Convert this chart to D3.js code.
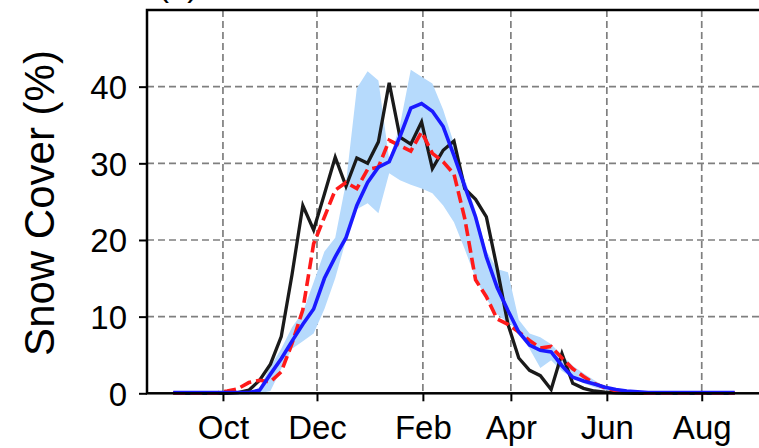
<!DOCTYPE html>
<html><head><meta charset="utf-8">
<script src="https://cdn.jsdelivr.net/npm/d3@7"></script>
<style>body{margin:0;background:#fff}svg{display:block}text{font-family:"Liberation Sans",Arial,Helvetica,sans-serif}</style>
</head><body>
<svg id="c" width="759" height="448"></svg>
<script>
// weekly index (0..52)
const weeks = [0,1,2,3,4,5,6,7,8,9,10,11,12,13,14,15,16,17,18,19,20,21,22,23,24,25,26,27,28,29,30,31,32,33,34,35,36,37,38,39,40,41,42,43,44,45,46,47,48,49,50,51,52];
const observed = [0,0,0,0,0,0,0.1,0.4,1.7,3.8,7.4,15.5,24.5,21.3,26.0,30.8,27.0,30.7,30.0,32.8,40.5,33.4,32.5,35.4,29.3,31.7,32.9,26.7,25.3,23.0,16.3,9.0,4.6,3.0,2.3,0.5,5.2,1.3,0.65,0.3,0.15,0.05,0.02,0,0,0,0,0,0,0,0,0,0];
const modelRed = [0.05,0.05,0.05,0.05,0.05,0.3,0.6,1.4,1.7,1.5,2.8,6.5,10.9,19.5,23.0,26.5,27.5,26.7,29.2,29.5,33.0,32.3,31.6,34.1,31.3,30.2,28.6,22.8,14.8,12.6,9.7,9.0,8.0,6.9,5.9,6.1,4.6,3.2,2.2,1.3,0.7,0.35,0.2,0.1,0.05,0.05,0.05,0.05,0.05,0.05,0.05,0.05,0.05];
const ensMean = [0.1,0.1,0.1,0.1,0.1,0.1,0.1,0.1,0.4,2.5,4.5,6.8,9.0,11.0,15.0,17.8,20.3,24.5,27.5,29.5,30.2,33.5,37.2,37.8,36.8,34.8,31.0,27.0,23.0,17.8,13.8,10.8,8.0,6.3,5.6,5.4,3.6,2.1,1.6,1.2,0.8,0.5,0.3,0.2,0.1,0.1,0.1,0.1,0.1,0.1,0.1,0.1,0.1];
const ensLow = [0,0,0,0,0,0,0,0,0,0.3,3.2,5.8,6.8,7.8,11.0,15.0,20.0,24.0,24.8,23.5,28.7,27.8,27.2,26.7,26.1,24.5,22.3,18.8,15.0,12.3,10.3,9.2,8.2,5.8,3.3,4.3,2.9,2.0,1.3,0.8,0.4,0.2,0,0,0,0,0,0,0,0,0,0,0];
const ensHigh = [0.1,0.1,0.1,0.1,0.1,0.1,0.1,0.1,0.8,3.5,5.8,8.6,10.6,14.5,18.5,20.3,27.5,39.8,42.0,40.8,30.5,35.0,42.2,41.3,40.4,37.0,32.6,28.0,23.8,18.6,16.2,15.8,9.6,7.8,7.3,6.4,5.0,3.6,2.6,1.7,0.9,0.5,0.3,0.1,0.1,0.1,0.1,0.1,0.1,0.1,0.1,0.1,0.1];
const monthTickPos = [4.6,13.31,23.12,31.27,40.16,48.95];
const monthLabels = ["Oct","Dec","Feb","Apr","Jun","Aug"];
const yTicks = [0,10,20,30,40];

const svg = d3.select("#c");
const L=147, R=761, T=10, B=393.3;
const x = d3.scaleLinear().domain([-2.435,54.44]).range([L,R]);
const y = d3.scaleLinear().domain([0,50]).range([B,T]);

// grid
const g = svg.append("g");
g.selectAll("line.v").data(monthTickPos).join("line")
  .attr("x1",d=>x(d)).attr("x2",d=>x(d)).attr("y1",T).attr("y2",B)
  .attr("stroke","#7f7f7f").attr("stroke-width",1.7).attr("stroke-dasharray","7,4");
g.selectAll("line.h").data(yTicks.filter(d=>d>0)).join("line")
  .attr("x1",L).attr("x2",R).attr("y1",d=>y(d)).attr("y2",d=>y(d))
  .attr("stroke","#7f7f7f").attr("stroke-width",1.7).attr("stroke-dasharray","7,4");

// band
const area = d3.area().x((d,i)=>x(weeks[i])).y0((d,i)=>y(ensLow[i])).y1((d,i)=>y(ensHigh[i]));
svg.append("path").datum(weeks).attr("d",area).attr("fill","#b6dafc").attr("stroke","none");

const line = arr => d3.line().x((d,i)=>x(weeks[i])).y((d,i)=>y(arr[i]))(arr);
svg.append("path").attr("d",line(observed)).attr("fill","none").attr("stroke","#1a1a1a").attr("stroke-width",3.3);
svg.append("path").attr("d",line(modelRed)).attr("fill","none").attr("stroke","#ff1a1a").attr("stroke-width",3.6).attr("stroke-dasharray","12,5");
svg.append("path").attr("d",line(ensMean)).attr("fill","none").attr("stroke","#1a1aff").attr("stroke-width",3.6);

// axes
const xa = svg.append("g").attr("transform",`translate(0,${B})`)
  .call(d3.axisBottom(x).tickValues(monthTickPos).tickFormat((d,i)=>monthLabels[i]).tickSize(8).tickSizeOuter(0));
const ya = svg.append("g").attr("transform",`translate(${L},0)`)
  .call(d3.axisLeft(y).tickValues(yTicks).tickSize(8).tickSizeOuter(0));
[xa,ya].forEach(a=>{
  a.select(".domain").remove();
  a.selectAll(".tick line").attr("stroke","#000").attr("stroke-width",2);
  a.selectAll(".tick text").attr("fill","#000").style("font-size","33px").style("font-family","'Liberation Sans',Arial,sans-serif");
});
xa.selectAll(".tick text").attr("dy",null).attr("y",46);
ya.selectAll(".tick text").attr("dy","0.36em").attr("x",-20);

// frame
svg.append("rect").attr("x",L).attr("y",T).attr("width",R-L).attr("height",B-T)
  .attr("fill","none").attr("stroke","#000").attr("stroke-width",2.5);

// y label
svg.append("text").attr("transform","translate(54,203) rotate(-90)").attr("text-anchor","middle")
  .style("font-size","42px").attr("fill","#000").text("Snow Cover (%)");
// panel label (cropped at the top, as in the reference)
svg.append("text").attr("x",158).attr("y",-4).style("font-size","33px").attr("fill","#000").text("(a)");
</script>
</body></html>
